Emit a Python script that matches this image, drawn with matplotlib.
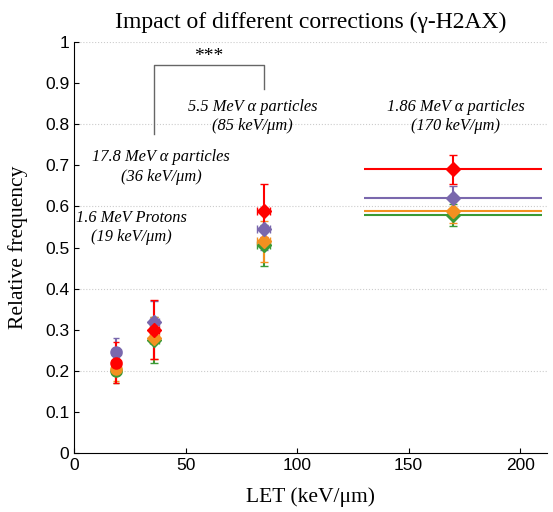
import matplotlib
matplotlib.use("Agg")
import matplotlib.pyplot as plt

let = [19, 36, 85, 170]
let_err = [2, 2, 3, 40]

red = [0.22, 0.30, 0.59, 0.69]
red_err = [0.05, 0.072, 0.065, 0.035]
purple = [0.245, 0.32, 0.545, 0.62]
purple_err = [0.035, 0.05, 0.05, 0.03]
orange = [0.205, 0.28, 0.515, 0.59]
orange_err = [0.03, 0.05, 0.05, 0.03]
green = [0.20, 0.275, 0.505, 0.58]
green_err = [0.03, 0.055, 0.05, 0.027]

series = [
    ("green", green, green_err, "#3a9a35"),
    ("orange", orange, orange_err, "#f39020"),
    ("purple", purple, purple_err, "#7a68ad"),
    ("red", red, red_err, "#ff0000"),
]

labels = [
    (25.5, 0.549, "1.6 MeV Protons\n(19 keV/\u03bcm)"),
    (39, 0.696, "17.8 MeV \u03b1 particles\n(36 keV/\u03bcm)"),
    (80, 0.819, "5.5 MeV \u03b1 particles\n(85 keV/\u03bcm)"),
    (171, 0.819, "1.86 MeV \u03b1 particles\n(170 keV/\u03bcm)"),
]

fig = plt.figure(figsize=(5.53, 5.12), dpi=100)
ax = fig.add_axes([0.134, 0.115, 0.855, 0.803])

for name, vals, errs, col in series:
    # first point drawn as a circle, the rest as diamonds
    ax.errorbar(let[:1], vals[:1], yerr=errs[:1], xerr=let_err[:1], fmt='o',
                color=col, ms=8, capsize=2, elinewidth=1.5, zorder=3)
    ax.errorbar(let[1:3], vals[1:3], yerr=errs[1:3], xerr=let_err[1:3], fmt='D',
                color=col, ms=7, capsize=3, elinewidth=1.5, zorder=3)
    # last point: wide horizontal bar without caps
    ax.errorbar(let[3:], vals[3:], xerr=let_err[3:], fmt='none',
                ecolor=col, capsize=0, elinewidth=1.5, zorder=2)
    ax.errorbar(let[3:], vals[3:], yerr=errs[3:], fmt='D',
                color=col, ms=7, capsize=3, elinewidth=1.5, zorder=3)

for x, y, txt in labels:
    ax.text(x, y, txt, ha='center', va='center', fontsize=11.8,
            family='Liberation Serif', style='italic', linespacing=1.3,
            clip_on=True)

# significance bracket
ax.plot([36, 36, 85, 85], [0.775, 0.945, 0.945, 0.885], color='#666666', lw=1)
ax.text(60.5, 0.943, "***", ha='center', va='bottom', fontsize=14, family='Liberation Serif')

ax.set_xlim(0, 212)
ax.set_ylim(0, 1)
ax.set_xticks([0, 50, 100, 150, 200])
ax.set_yticks([i / 10 for i in range(11)])
ax.set_yticklabels(["0", "0.1", "0.2", "0.3", "0.4", "0.5", "0.6", "0.7", "0.8", "0.9", "1"])
for y in [0.2, 0.4, 0.6, 0.8, 1.0]:
    ax.axhline(y, color='#cccccc', lw=0.8, ls=':', zorder=0)
ax.spines['top'].set_visible(False)
ax.spines['right'].set_visible(False)
ax.tick_params(direction='in', labelsize=12.5)
for lab in ax.get_xticklabels() + ax.get_yticklabels():
    lab.set_family('Liberation Sans')

ax.set_xlabel("LET (keV/\u03bcm)", fontsize=15.5, family='Liberation Serif', labelpad=10)
ax.set_ylabel("Relative frequency", fontsize=15.5, family='Liberation Serif', labelpad=12)
ax.set_title("Impact of different corrections (\u03b3-H2AX)", fontsize=17,
             family='Liberation Serif', pad=10)

fig.savefig("out.png", dpi=100)
